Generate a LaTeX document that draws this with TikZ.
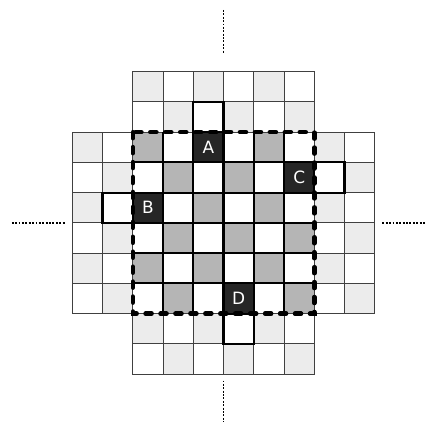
\documentclass[tikz,border=0pt]{standalone}
\usepackage{fontspec}
\setsansfont{DejaVu Sans}
\definecolor{lightcell}{gray}{0.925}
\definecolor{midcell}{gray}{0.71}
\definecolor{darkcell}{gray}{0.15}
\begin{document}
\begin{tikzpicture}[x=1.067cm,y=-1.067cm,
  thingrid/.style={draw=black!75,line width=0.9pt},
  thickgrid/.style={line width=2.1pt},
  marked/.style={fill=darkcell,text=white,inner sep=0pt,minimum size=1.067cm,
    font=\sffamily\fontsize{17}{17}\selectfont},
  border/.style={line width=4.6pt,dash pattern=on 6pt off 9pt,line cap=round},
  axis/.style={line width=1.9pt,dash pattern=on 1.9pt off 1.5pt}]
\useasboundingbox (-2.39,-2.37) rectangle (11.66,11.57);
% cells of the cross, checkered
\foreach \c in {0,...,9}
  \foreach \r in {0,...,9} {
    \pgfmathtruncatemacro\incross{(\c>1 && \c<8) || (\r>1 && \r<8)}
    \pgfmathtruncatemacro\inner{(\c>1 && \c<8) && (\r>1 && \r<8)}
    \pgfmathtruncatemacro\even{mod(\c+\r,2)==0}
    \ifnum\incross=1
      \ifnum\even=1
        \ifnum\inner=1 \def\cellcol{midcell}\else\def\cellcol{lightcell}\fi
      \else\def\cellcol{white}\fi
      \filldraw[thingrid,fill=\cellcol] (\c,\r) rectangle ++(1,1);
    \fi
  }
% marked cells
\node[marked] (A) at (4.5,2.5) {A};
\node[marked] (B) at (2.5,4.5) {B};
\node[marked] (C) at (7.5,3.5) {C};
\node[marked] (D) at (5.5,7.5) {D};
% inner grid
\foreach \k in {3,...,7} {
  \draw[thickgrid] (\k,2) -- (\k,8);
  \draw[thickgrid] (2,\k) -- (8,\k);
}
% cells next to the marked ones
\draw[thickgrid] (4,1) rectangle ++(1,1);
\draw[thickgrid] (8,3) rectangle ++(1,1);
\draw[thickgrid] (1,4) rectangle ++(1,1);
\draw[thickgrid] (5,8) rectangle ++(1,1);
\draw[border] (2,2) rectangle (8,8);
% axes
\draw[axis] (5,-2.04) -- (5,-0.62);
\draw[axis] (5,10.21) -- (5,11.6);
\draw[axis] (-2,5) -- (-0.24,5);
\draw[axis] (10.25,5) -- (11.66,5);
\end{tikzpicture}
\end{document}
